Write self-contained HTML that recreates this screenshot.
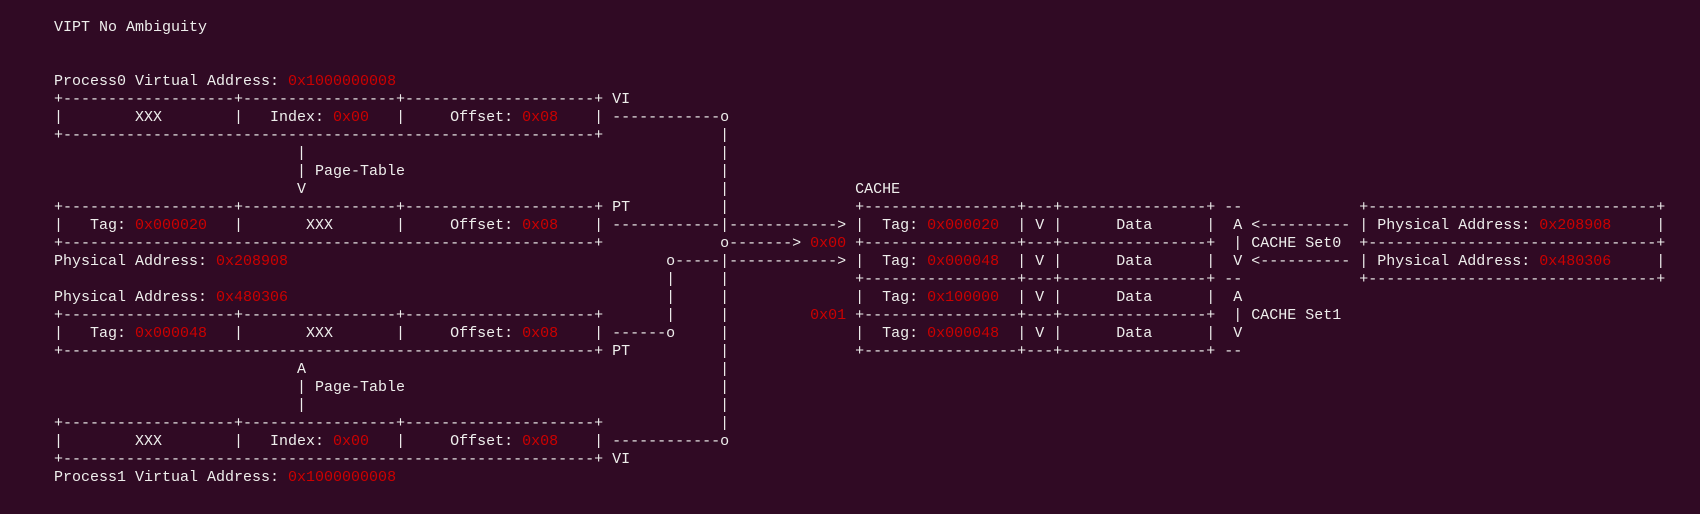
<!DOCTYPE html>
<html><head><meta charset="utf-8">
<style>
html,body{margin:0;padding:0;background:#300a24;width:1700px;height:514px;overflow:hidden}
pre{position:absolute;left:54px;top:19px;margin:0;font-family:"Liberation Mono",monospace;font-size:15px;line-height:18px;color:#eeeeec;white-space:pre}
b{font-weight:normal;color:#cc0000}
</style></head><body>
<pre>VIPT No Ambiguity


Process0 Virtual Address: <b>0x1000000008</b>
+-------------------+-----------------+---------------------+ VI
|        XXX        |   Index: <b>0x00</b>   |     Offset: <b>0x08</b>    | ------------o
+-----------------------------------------------------------+             |
                           |                                              |
                           | Page-Table                                   |
                           V                                              |              CACHE
+-------------------+-----------------+---------------------+ PT          |              +-----------------+---+----------------+ --             +--------------------------------+
|   Tag: <b>0x000020</b>   |       XXX       |     Offset: <b>0x08</b>    | ------------|------------&gt; |  Tag: <b>0x000020</b>  | V |      Data      |  A &lt;---------- | Physical Address: <b>0x208908</b>     |
+-----------------------------------------------------------+             o-------&gt; <b>0x00</b> +-----------------+---+----------------+  | CACHE Set0  +--------------------------------+
Physical Address: <b>0x208908</b>                                          o-----|------------&gt; |  Tag: <b>0x000048</b>  | V |      Data      |  V &lt;---------- | Physical Address: <b>0x480306</b>     |
                                                                    |     |              +-----------------+---+----------------+ --             +--------------------------------+
Physical Address: <b>0x480306</b>                                          |     |              |  Tag: <b>0x100000</b>  | V |      Data      |  A
+-------------------+-----------------+---------------------+       |     |         <b>0x01</b> +-----------------+---+----------------+  | CACHE Set1
|   Tag: <b>0x000048</b>   |       XXX       |     Offset: <b>0x08</b>    | ------o     |              |  Tag: <b>0x000048</b>  | V |      Data      |  V
+-----------------------------------------------------------+ PT          |              +-----------------+---+----------------+ --
                           A                                              |
                           | Page-Table                                   |
                           |                                              |
+-------------------+-----------------+---------------------+             |
|        XXX        |   Index: <b>0x00</b>   |     Offset: <b>0x08</b>    | ------------o
+-----------------------------------------------------------+ VI
Process1 Virtual Address: <b>0x1000000008</b></pre>
</body></html>
